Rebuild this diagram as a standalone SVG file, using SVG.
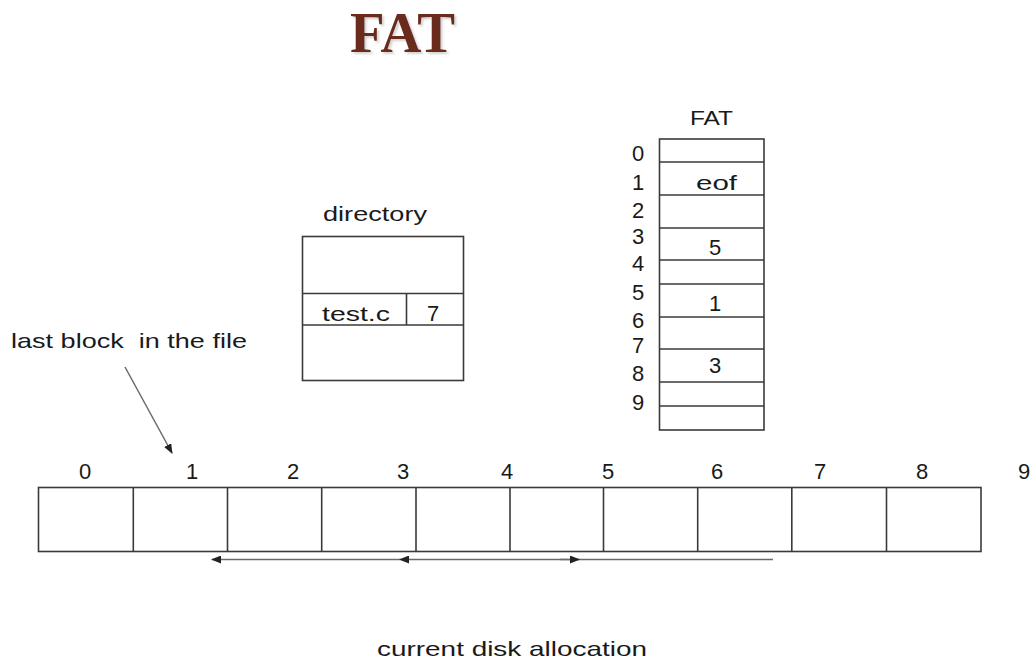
<svg xmlns="http://www.w3.org/2000/svg" width="1031" height="664" viewBox="0 0 1031 664">
  <style>
    .lbl { font-family: "Liberation Sans", Arial, sans-serif; font-size: 21px; fill: #1a1a1a; }
    .num { font-family: "Liberation Sans", Arial, sans-serif; font-size: 22px; fill: #1a1a1a; text-anchor: middle; }
    .box { fill: #ffffff; stroke: #3a3a3a; stroke-width: 1.6; }
    .rule { stroke: #3a3a3a; stroke-width: 1.6; fill: none; }
    .link { stroke: #6a6a6a; stroke-width: 1.5; fill: none; }
    .title { font-family: "Liberation Serif", "Times New Roman", serif; font-weight: bold; font-size: 56px; fill: #6b2a1b; }
  </style>
  <defs>
    <filter id="soft" x="-10%" y="-10%" width="130%" height="140%">
      <feDropShadow dx="2" dy="2" stdDeviation="1" flood-color="#999" flood-opacity="0.45"/>
    </filter>
    <marker id="head" markerWidth="10" markerHeight="8" refX="9" refY="4" orient="auto" markerUnits="userSpaceOnUse">
      <path d="M0,0 L10,4 L0,8 Z" fill="#222"/>
    </marker>
  </defs>

  <rect width="1031" height="664" fill="#ffffff"/>

  <!-- heading -->
  <text class="title" x="350" y="52" textLength="105" lengthAdjust="spacingAndGlyphs" filter="url(#soft)">FAT</text>

  <!-- file allocation table -->
  <g id="fat-table">
    <text class="lbl" x="690" y="125" textLength="43" lengthAdjust="spacingAndGlyphs">FAT</text>
    <rect class="box" x="659.5" y="139" width="104.5" height="291"/>
    <path class="rule" d="M659.5,162 H764 M659.5,195 H764 M659.5,228 H764 M659.5,260 H764 M659.5,284 H764 M659.5,317 H764 M659.5,349 H764 M659.5,382 H764 M659.5,406 H764"/>
    <text class="num" x="638" y="161">0</text>
    <text class="num" x="638" y="190">1</text>
    <text class="num" x="638" y="218">2</text>
    <text class="num" x="638" y="244">3</text>
    <text class="num" x="638" y="271">4</text>
    <text class="num" x="638" y="300">5</text>
    <text class="num" x="638" y="328">6</text>
    <text class="num" x="638" y="353">7</text>
    <text class="num" x="638" y="381">8</text>
    <text class="num" x="638" y="410">9</text>
    <text class="lbl" x="696" y="190" textLength="41" lengthAdjust="spacingAndGlyphs">eof</text>
    <text class="num" x="715" y="255">5</text>
    <text class="num" x="715" y="311">1</text>
    <text class="num" x="715" y="373">3</text>
  </g>

  <!-- directory -->
  <g id="directory">
    <text class="lbl" x="323" y="221" textLength="104" lengthAdjust="spacingAndGlyphs">directory</text>
    <rect class="box" x="302.5" y="236.5" width="161" height="144"/>
    <path class="rule" d="M302.5,293.5 H463.5 M302.5,325 H463.5 M406.5,293.5 V325"/>
    <text class="lbl" x="322" y="321" textLength="68" lengthAdjust="spacingAndGlyphs">test.c</text>
    <text class="num" x="433" y="321">7</text>
  </g>

  <!-- annotation -->
  <g id="note">
    <text class="lbl" x="11" y="348" textLength="236" lengthAdjust="spacingAndGlyphs">last block&#160; in the file</text>
  </g>

  <!-- disk blocks -->
  <g id="disk">
    <rect class="box" x="38.5" y="487.5" width="942.5" height="64"/>
    <path class="rule" d="M133.3,487.5 V551.5 M227.5,487.5 V551.5 M321.7,487.5 V551.5 M416,487.5 V551.5 M510,487.5 V551.5 M603.5,487.5 V551.5 M697.7,487.5 V551.5 M791.8,487.5 V551.5 M886.5,487.5 V551.5"/>
    <text class="num" x="85" y="479">0</text>
    <text class="num" x="192" y="479">1</text>
    <text class="num" x="293" y="479">2</text>
    <text class="num" x="403" y="479">3</text>
    <text class="num" x="507" y="479">4</text>
    <text class="num" x="608" y="479">5</text>
    <text class="num" x="717" y="479">6</text>
    <text class="num" x="820" y="479">7</text>
    <text class="num" x="922" y="479">8</text>
    <text class="num" x="1024" y="479">9</text>
  </g>

  <!-- connectors: pointer chain under the disk blocks -->
  <g id="connectors">
    <line class="link" x1="125" y1="367" x2="172" y2="453" marker-end="url(#head)"/>
    <line class="link" x1="773" y1="559.5" x2="578" y2="559.5"/>
    <line class="link" x1="400" y1="559.5" x2="212" y2="559.5" marker-end="url(#head)"/>
    <line class="link" x1="578" y1="559.5" x2="400" y2="559.5" marker-end="url(#head)"/>
    <line class="link" x1="560" y1="559.5" x2="579" y2="559.5" marker-end="url(#head)"/>
  </g>

  <!-- caption -->
  <text class="lbl" x="377" y="656" textLength="270" lengthAdjust="spacingAndGlyphs">current disk allocation</text>
</svg>
